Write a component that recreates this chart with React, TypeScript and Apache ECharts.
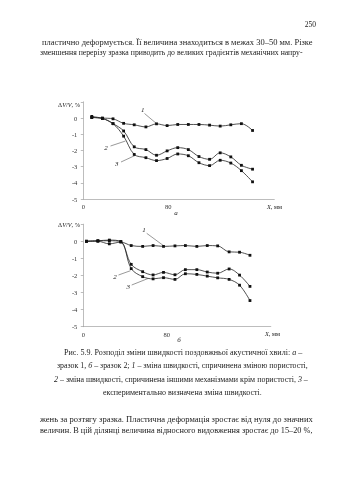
import React, { useEffect, useRef } from "react";
import * as echarts from "echarts";

// Chart a (зразок 1)
const xA = [8, 18, 28, 38, 48, 59, 69, 79, 89, 99, 109, 119, 129, 139, 149, 159.5];
const a1 = [0.1, 0, -0.05, -0.33, -0.42, -0.55, -0.36, -0.47, -0.4, -0.4, -0.4, -0.44, -0.5, -0.42, -0.35, -0.77];
const a2 = [0.03, -0.03, -0.35, -0.8, -1.78, -1.95, -2.3, -2.03, -1.83, -1.95, -2.38, -2.55, -2.15, -2.4, -2.92, -3.16];
const a3 = [0.03, -0.03, -0.35, -1.12, -2.25, -2.45, -2.63, -2.5, -2.22, -2.33, -2.76, -2.94, -2.61, -2.78, -3.25, -3.94];

// Chart б (зразок 2)
const xB = [3, 14, 25, 36, 46, 57, 67, 77, 88, 98, 109, 119, 129, 140, 150, 160];
const b1 = [0, 0, -0.15, -0.05, -0.25, -0.3, -0.25, -0.3, -0.27, -0.25, -0.3, -0.25, -0.27, -0.62, -0.64, -0.82];
const b2 = [0, 0.03, 0.07, -0.02, -1.35, -1.78, -1.97, -1.82, -1.96, -1.66, -1.66, -1.8, -1.87, -1.62, -1.98, -2.64];
const b3 = [0, 0.03, 0.03, -0.02, -1.6, -2.07, -2.2, -2.13, -2.23, -1.9, -1.94, -2.04, -2.14, -2.23, -2.57, -3.47];

const yTicks = [-5, -4, -3, -2, -1, 0];
const xTicks = [0, 80, 160];

const pageNo = "250";
const topLines = [
  "пластично деформується. Її величина знаходиться в межах 30–50 мм. Різке",
  "зменшення перерізу зразка приводить до великих градієнтів механічних напру-",
];
const bottomLines = [
  "жень за розтягу зразка. Пластична деформація зростає від нуля до значних",
  "величин. В цій ділянці величина відносного видовження зростає до 15–20 %,",
];
const captionRich = [
  "Рис. 5.9. Розподіл зміни швидкості поздовжньої акустичної хвилі: {i|а} –",
  "зразок 1, {i|б} – зразок 2; {i|1} – зміна швидкості, спричинена зміною пористості,",
  "{i|2} – зміна швидкості, спричинена іншими механізмами крім пористості, {i|3} –",
  "експериментально визначена зміна швидкості.",
];

const FAM = "Liberation Serif";
const INK = "#222";

function fitSize(text: string, target: number, base: number) {
  try {
    const c = document.createElement("canvas").getContext("2d")!;
    c.font = `${base}px "Liberation Serif"`;
    const w = c.measureText(text.replace(/\{i\|([^}]*)\}/g, "$1")).width;
    const s = (base * target) / w;
    return Math.max(base * 0.85, Math.min(base * 1.15, s));
  } catch (e) {
    return base;
  }
}

function txt(text: string, x: number, y: number, size: number, align = "left") {
  return {
    type: "text",
    x,
    y,
    silent: true,
    style: {
      text,
      fontFamily: FAM,
      fontSize: size,
      fill: INK,
      textAlign: align,
      align,
      textVerticalAlign: "middle",
      verticalAlign: "middle",
      rich: {
        i: { fontStyle: "italic", fontFamily: FAM, fontSize: size, fill: INK, color: INK },
      },
    },
  };
}

function leader(x1: number, y1: number, x2: number, y2: number) {
  return {
    type: "line",
    silent: true,
    shape: { x1, y1, x2, y2 },
    style: { stroke: "#444", lineWidth: 0.55 },
  };
}

export default function App() {
  const ref = useRef<HTMLDivElement>(null);
  useEffect(() => {
    if (!ref.current) return;
    const chart = echarts.init(ref.current, null, { renderer: "svg" });

    const mkSeries = (xs: number[], ys: number[], idx: number, name: string) => ({
      type: "line",
      name,
      xAxisIndex: idx,
      yAxisIndex: idx,
      data: xs.map((x, i) => [x, ys[i]]),
      smooth: 0.35,
      symbol: "rect",
      symbolSize: 2.8,
      showSymbol: true,
      itemStyle: { color: "#111" },
      lineStyle: { color: "#262626", width: 0.8 },
      emphasis: { disabled: true },
    });

    const xAxisCommon = {
      type: "value",
      min: 0,
      max: 180,
      interval: 80,
      axisLine: { show: true, onZero: false, lineStyle: { color: "#a0a0a0", width: 0.7 } },
      axisTick: { show: false },
      splitLine: { show: false },
      axisLabel: {
        showMaxLabel: false,
        fontFamily: FAM,
        fontSize: 6.5,
        color: "#333",
        margin: 4,
        customValues: xTicks,
      },
    };
    const yAxisCommon = {
      type: "value",
      min: -5,
      max: 1,
      interval: 1,
      axisLine: { show: true, onZero: false, lineStyle: { color: "#a0a0a0", width: 0.7 } },
      axisTick: { show: true, length: 2.5, lineStyle: { color: "#a0a0a0", width: 0.7 } },
      splitLine: { show: false },
      axisLabel: {
        fontFamily: FAM,
        fontSize: 6.5,
        color: "#333",
        margin: 6,
        formatter: (v: number) => (yTicks.indexOf(v) >= 0 ? String(v) : ""),
      },
    };

    const graphics: any[] = [];
    graphics.push(txt(pageNo, 316, 24, 7.5, "right"));
    const topX = [[42, 313], [40, 303]];
    const topY = [41.7, 52.3];
    topLines.forEach((t, i) => {
      graphics.push(txt(t, topX[i][0], topY[i], fitSize(t, topX[i][1] - topX[i][0], 7.8)));
    });
    const botY = [419.3, 430.3];
    bottomLines.forEach((t, i) => {
      graphics.push(txt(t, 40, botY[i], fitSize(t, 273, 7.8)));
    });
    const capX = [[64, 302], [57, 308], [54, 308], [103, 262]];
    const capY = [352.8, 365.6, 379, 392.3];
    captionRich.forEach((t, i) => {
      graphics.push(txt(t, capX[i][0], capY[i], fitSize(t, capX[i][1] - capX[i][0], 7.3)));
    });

    // chart a annotations
    graphics.push(txt("Δ{i|V}/{i|V}, %", 80, 104, 6.3, "right"));
    graphics.push(txt("{i|X}, мм", 267, 206, 6.3, "left"));
    graphics.push(txt("{i|а}", 176, 213, 7, "center"));
    graphics.push(txt("{i|1}", 142.7, 110, 7, "center"));
    graphics.push(leader(144.5, 113.5, 157, 124));
    graphics.push(txt("{i|2}", 106, 148, 7, "center"));
    graphics.push(leader(110.5, 146, 125.5, 141));
    graphics.push(txt("{i|3}", 116.7, 163.5, 7, "center"));
    graphics.push(leader(121, 162, 135, 155.5));

    // chart б annotations
    graphics.push(txt("Δ{i|V}/{i|V}, %", 80, 224, 6.3, "right"));
    graphics.push(txt("{i|X}, мм", 265, 333, 6.3, "left"));
    graphics.push(txt("{i|б}", 179, 340, 7, "center"));
    graphics.push(txt("{i|1}", 144, 230, 7, "center"));
    graphics.push(leader(146.7, 233.3, 163.3, 245.5));
    graphics.push(txt("{i|2}", 115, 276.7, 7, "center"));
    graphics.push(leader(118.5, 275, 130.5, 270.7));
    graphics.push(txt("{i|3}", 128.3, 286.5, 7, "center"));
    graphics.push(leader(131.7, 285, 148, 278.5));

    chart.setOption({
      animation: false,
      backgroundColor: "#ffffff",
      textStyle: { fontFamily: FAM, color: INK },
      grid: [
        { left: 83.3, top: 101.8, width: 191, height: 97.2 },
        { left: 83.3, top: 224.2, width: 187.5, height: 102.5 },
      ],
      xAxis: [
        { ...xAxisCommon, gridIndex: 0 },
        { ...xAxisCommon, gridIndex: 1 },
      ],
      yAxis: [
        { ...yAxisCommon, gridIndex: 0 },
        { ...yAxisCommon, gridIndex: 1 },
      ],
      series: [
        mkSeries(xA, a1, 0, "a1"),
        mkSeries(xA, a2, 0, "a2"),
        mkSeries(xA, a3, 0, "a3"),
        mkSeries(xB, b1, 1, "b1"),
        mkSeries(xB, b2, 1, "b2"),
        mkSeries(xB, b3, 1, "b3"),
      ],
      graphic: graphics,
    });
    return () => chart.dispose();
  }, []);

  return (
    <div
      style={{
        position: "absolute",
        left: 0,
        top: 0,
        width: 339,
        height: 480,
        background: "#fff",
        filter: "grayscale(1)",
      }}
    >
      <div ref={ref} style={{ width: 339, height: 480 }} />
    </div>
  );
}
